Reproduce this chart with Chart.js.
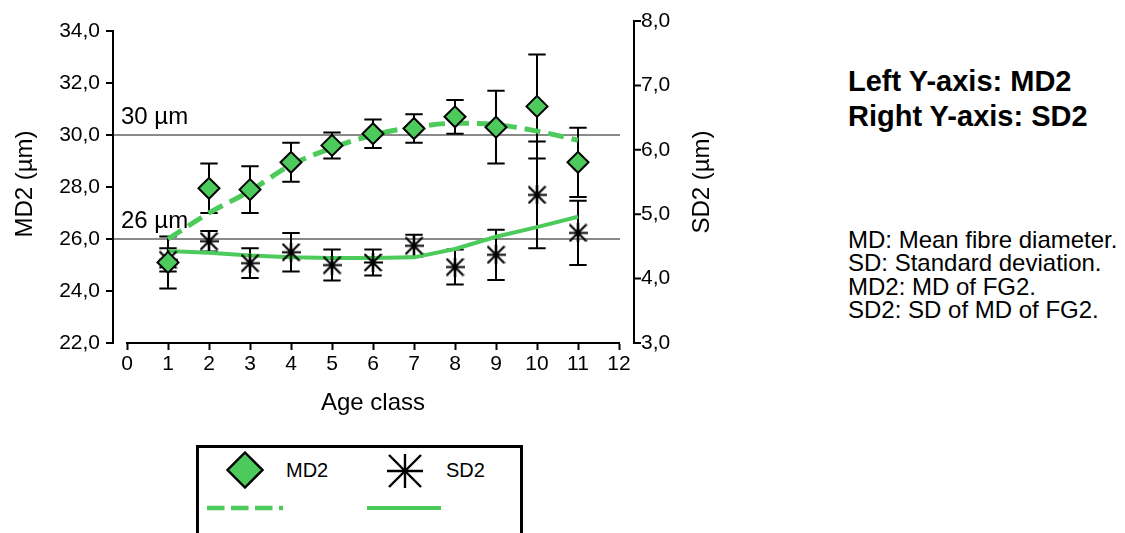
<!DOCTYPE html>
<html>
<head>
<meta charset="utf-8">
<script src="https://cdn.jsdelivr.net/npm/chart.js@4.4.1/dist/chart.umd.min.js"></script>
<style>
  html, body { margin: 0; padding: 0; background: #fff; width: 1125px; height: 533px; overflow: hidden;
    font-family: "Liberation Sans", Arial, sans-serif; color: #000; }
  #plot { position: absolute; left: 0; top: 0; width: 760px; height: 440px; }
  #axisNote { position: absolute; left: 848px; top: 64px; font-weight: bold; font-size: 29px; line-height: 35px; white-space: nowrap; }
  #defs { position: absolute; left: 848px; top: 228px; font-size: 24px; line-height: 23.4px; white-space: nowrap; }
  #legend { position: absolute; left: 196px; top: 445px; width: 321px; height: 120px; border: 3px solid #000; }
  #legend .sym { position: absolute; }
  #legend .lbl { position: absolute; font-size: 20px; line-height: 24px; white-space: nowrap; }
</style>
</head>
<body>
<div id="plot"><canvas id="chart"></canvas></div>

<div id="axisNote">Left Y-axis: MD2<br>Right Y-axis: SD2</div>
<div id="defs">MD: Mean fibre diameter.<br>SD: Standard deviation.<br>MD2: MD of FG2.<br>SD2: SD of MD of FG2.</div>

<div id="legend">
  <svg class="sym" style="left:27px;top:3px" width="38" height="38" viewBox="0 0 38 38">
    <polygon points="19,1.5 36.5,19 19,36.5 1.5,19" fill="#4ccb5c" stroke="#000" stroke-width="2.4"/>
  </svg>
  <div class="lbl" style="left:87px;top:10px">MD2</div>
  <svg class="sym" style="left:187px;top:4px" width="38" height="38" viewBox="0 0 38 38" stroke="#000" stroke-width="2.4">
    <line x1="1" y1="19" x2="37" y2="19"/>
    <line x1="19" y1="2" x2="19" y2="36"/>
    <line x1="3" y1="3" x2="35" y2="35"/>
    <line x1="35" y1="3" x2="3" y2="35"/>
  </svg>
  <div class="lbl" style="left:247px;top:10px">SD2</div>
  <svg class="sym" style="left:8px;top:55px" width="80" height="10">
    <line x1="0" y1="5" x2="76" y2="5" stroke="#4ccb5c" stroke-width="4.7" stroke-dasharray="17.5 6.5"/>
  </svg>
  <svg class="sym" style="left:168px;top:55px" width="80" height="10">
    <line x1="0" y1="5" x2="74" y2="5" stroke="#4ccb5c" stroke-width="4.2"/>
  </svg>
</div>

<script>
// Age classes on the x axis
const ageClasses = [1, 2, 3, 4, 5, 6, 7, 8, 9, 10, 11];

// MD2: mean fibre diameter of FG2 (µm) with error half-widths
const md2Mean = [25.1, 27.95, 27.9, 28.95, 29.6, 30.05, 30.25, 30.7, 30.3, 31.1, 28.95];
const md2Err  = [1.0, 0.95, 0.9, 0.75, 0.5, 0.55, 0.55, 0.65, 1.4, 2.0, 1.33];

// SD2: standard deviation of MD of FG2 (µm) with error half-widths
const sd2Mean = [4.29, 4.58, 4.24, 4.41, 4.21, 4.25, 4.51, 4.18, 4.37, 5.30, 4.71];
const sd2Err  = [0.18, 0.16, 0.23, 0.30, 0.24, 0.20, 0.17, 0.27, 0.39, 0.83, 0.50];

// Trend curves
const md2Trend = [26.0, 27.0, 27.85, 28.85, 29.5, 30.0, 30.3, 30.45, 30.4, 30.15, 29.8];
const sd2Trend = [4.43, 4.40, 4.36, 4.33, 4.32, 4.32, 4.33, 4.46, 4.65, 4.80, 4.96];

// Axis ticks
const xTicks = [0, 1, 2, 3, 4, 5, 6, 7, 8, 9, 10, 11, 12];
const leftTicks = [22, 24, 26, 28, 30, 32, 34];
const rightTicks = [3, 4, 5, 6, 7, 8];

// Axis titles
const xTitle = 'Age class';
const leftTitle = 'MD2 (µm)';
const rightTitle = 'SD2 (µm)';

// Reference levels on the MD2 axis
const refLevels = [30, 26];
const refLabels = ['30 µm', '26 µm'];

const GREEN = '#4ccb5c';
const FONT = '"Liberation Sans", Arial, sans-serif';

const pts = (xs, ys) => xs.map((x, i) => ({ x: x, y: ys[i] }));
const comma = v => Number(v).toFixed(1).replace('.', ',');

// Eight-spoke asterisk marker
function asteriskMarker(size, lw) {
  const c = document.createElement('canvas');
  c.width = size; c.height = size;
  const g = c.getContext('2d');
  g.strokeStyle = '#000'; g.lineWidth = lw;
  const s = size, h = size / 2, m = 1;
  g.beginPath();
  g.moveTo(0, h); g.lineTo(s, h);
  g.moveTo(h, 0); g.lineTo(h, s);
  g.moveTo(m, m); g.lineTo(s - m, s - m);
  g.moveTo(s - m, m); g.lineTo(m, s - m);
  g.stroke();
  return c;
}

// Vertical title reading bottom to top, baseline at bx
function verticalTitle(ctx, text, bx, cy) {
  ctx.save();
  ctx.fillStyle = '#000';
  ctx.font = '24px ' + FONT;
  ctx.textAlign = 'center';
  ctx.textBaseline = 'alphabetic';
  ctx.translate(bx, cy);
  ctx.rotate(-Math.PI / 2);
  ctx.fillText(text, 0, 0);
  ctx.restore();
}

// Axis lines sit slightly apart from the plot area, so they are stroked here
const frame = {
  id: 'frame',
  beforeDatasetsDraw(chart) {
    const { ctx, chartArea, scales } = chart;
    const yL = scales.yL, yR = scales.yR, x = scales.x;
    ctx.save();
    // reference lines with labels
    ctx.strokeStyle = '#8a8a8a';
    ctx.lineWidth = 2;
    ctx.fillStyle = '#000';
    ctx.font = '24px ' + FONT;
    ctx.textAlign = 'left';
    ctx.textBaseline = 'alphabetic';
    refLevels.forEach((v, i) => {
      const y = yL.getPixelForValue(v);
      ctx.beginPath();
      ctx.moveTo(chartArea.left - 14, y);
      ctx.lineTo(chartArea.right + 1, y);
      ctx.stroke();
      ctx.fillText(refLabels[i], chartArea.left - 6, y - 11);
    });
    // error bars
    ctx.strokeStyle = '#000';
    ctx.lineWidth = 2;
    const cap = 8.7;
    const bars = (means, errs, scale) => {
      ageClasses.forEach((c, i) => {
        const px = x.getPixelForValue(c);
        const top = scale.getPixelForValue(means[i] + errs[i]);
        const bot = scale.getPixelForValue(means[i] - errs[i]);
        ctx.beginPath();
        ctx.moveTo(px, top); ctx.lineTo(px, bot);
        ctx.moveTo(px - cap, top); ctx.lineTo(px + cap, top);
        ctx.moveTo(px - cap, bot); ctx.lineTo(px + cap, bot);
        ctx.stroke();
      });
    };
    bars(md2Mean, md2Err, yL);
    bars(sd2Mean, sd2Err, yR);
    ctx.restore();
  },
  afterDraw(chart) {
    const { ctx, chartArea, scales } = chart;
    const yL = scales.yL, yR = scales.yR;
    ctx.save();
    ctx.strokeStyle = '#000';
    ctx.lineWidth = 2;
    // left axis
    const lx = chartArea.left - 14;
    ctx.beginPath();
    ctx.moveTo(lx, yL.getPixelForValue(leftTicks[0]) + 1);
    ctx.lineTo(lx, yL.getPixelForValue(leftTicks[leftTicks.length - 1]));
    leftTicks.forEach(v => {
      const y = yL.getPixelForValue(v);
      ctx.moveTo(lx + 1, y); ctx.lineTo(lx - 7, y);
    });
    ctx.stroke();
    // right axis
    const rx = chartArea.right + 15;
    ctx.beginPath();
    ctx.moveTo(rx, yR.getPixelForValue(rightTicks[0]) + 1);
    ctx.lineTo(rx, yR.getPixelForValue(rightTicks[rightTicks.length - 1]));
    rightTicks.forEach(v => {
      const y = yR.getPixelForValue(v);
      ctx.moveTo(rx - 1, y); ctx.lineTo(rx + 7, y);
    });
    ctx.stroke();
    ctx.restore();
    // axis titles
    const cy = (chartArea.top + chartArea.bottom) / 2;
    verticalTitle(ctx, leftTitle, lx - 81, cy + 2);
    verticalTitle(ctx, rightTitle, rx + 75, cy);
  }
};

// Left scale stretched so 34 sits 10 px below the top of the plot area
const leftMax = 22 + 12 * 322 / 312;

new Chart(document.getElementById('chart'), {
  type: 'line',
  data: {
    datasets: [
      {
        label: 'MD2',
        data: pts(ageClasses, md2Mean),
        yAxisID: 'yL',
        showLine: false,
        pointStyle: 'rectRot',
        pointRadius: 10.5,
        pointBackgroundColor: GREEN,
        pointBorderColor: '#000',
        pointBorderWidth: 2,
        order: 0
      },
      {
        label: 'SD2',
        data: pts(ageClasses, sd2Mean),
        yAxisID: 'yR',
        showLine: false,
        pointStyle: asteriskMarker(19, 2.2),
        pointRadius: 9,
        order: 0
      },
      {
        label: 'MD2 trend',
        data: pts(ageClasses, md2Trend),
        yAxisID: 'yL',
        borderColor: GREEN,
        borderWidth: 5,
        borderDash: [16, 8],
        pointRadius: 0,
        cubicInterpolationMode: 'monotone',
        order: 1
      },
      {
        label: 'SD2 trend',
        data: pts(ageClasses, sd2Trend),
        yAxisID: 'yR',
        borderColor: GREEN,
        borderWidth: 4,
        pointRadius: 0,
        tension: 0,
        order: 1
      }
    ]
  },
  options: {
    responsive: true,
    maintainAspectRatio: false,
    animation: false,
    events: [],
    layout: { padding: { left: 0, right: 0, top: 21, bottom: 0 } },
    plugins: { legend: { display: false }, tooltip: { enabled: false } },
    scales: {
      x: {
        type: 'linear',
        position: 'bottom',
        min: 0, max: 12,
        afterBuildTicks: s => { s.ticks = xTicks.map(v => ({ value: v })); },
        afterFit: s => { s.height = 97; },
        ticks: { color: '#000', font: { family: FONT, size: 21 }, padding: 2, maxRotation: 0, autoSkip: false },
        grid: { drawOnChartArea: false, drawTicks: true, tickLength: 7, tickWidth: 2, tickColor: '#000' },
        border: { display: true, color: '#000', width: 2 },
        title: { display: true, text: xTitle, color: '#000', font: { family: FONT, size: 24 }, padding: { top: 0, bottom: 22 } }
      },
      yL: {
        type: 'linear',
        position: 'left',
        min: 22, max: leftMax,
        afterBuildTicks: s => { s.ticks = leftTicks.map(v => ({ value: v })); },
        afterFit: s => { s.width = 127; },
        ticks: { color: '#000', font: { family: FONT, size: 21 }, padding: 0, callback: comma },
        grid: { display: false, drawTicks: true, tickLength: 27 },
        border: { display: false },
        title: { display: false }
      },
      yR: {
        type: 'linear',
        position: 'right',
        min: 3, max: 8,
        afterBuildTicks: s => { s.ticks = rightTicks.map(v => ({ value: v })); },
        afterFit: s => { s.width = 141; },
        ticks: { color: '#000', font: { family: FONT, size: 21 }, padding: 0, callback: comma },
        grid: { display: false, drawTicks: true, tickLength: 22 },
        border: { display: false },
        title: { display: false }
      }
    }
  },
  plugins: [frame]
});
</script>
</body>
</html>
